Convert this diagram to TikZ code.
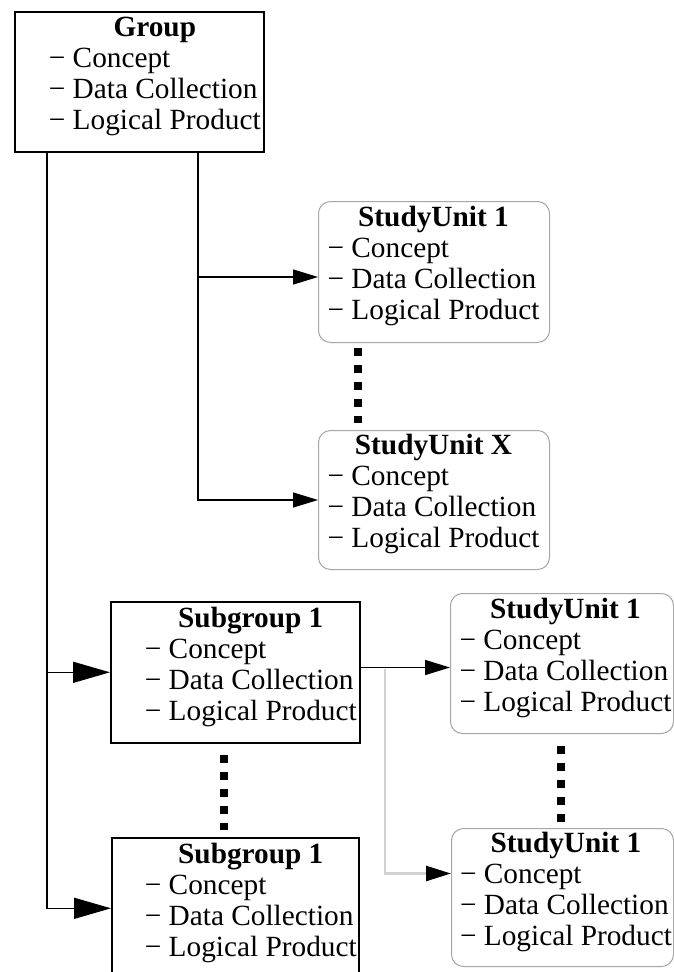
\documentclass[tikz,border=0pt]{standalone}
\usepackage{fontspec}
\setmainfont{Liberation Serif}
\usetikzlibrary{arrows.meta,calc}
\newcommand{\boxcontent}[3]{%
  \begin{tabular}{@{\hspace{#2}}l@{\hspace{#3}}}
  \multicolumn{1}{@{\hspace{#2}}c@{\hspace{#3}}}{\textbf{#1}}\\
  − Concept\\
  − Data Collection\\
  − Logical Product\rule[-19pt]{0pt}{1pt}
  \end{tabular}}
\tikzset{
  rect/.style={draw=black, line width=1.6pt, inner sep=0pt, anchor=north west,
    font=\fontsize{29.3}{31}\selectfont},
  rbox/.style={rect, draw=gray!70, line width=1pt, rounded corners=12pt},
  conn/.style={line width=1.5pt},
  bigarrow/.style={-{Triangle[length=37pt,width=21pt]}},
  smallarrow/.style={-{Triangle[length=25pt,width=15pt]}},
  graylink/.style={draw=gray!35, line width=2.5pt, -{Triangle[length=25pt,width=15pt,color=black]}},
  dotcol/.style={line width=8pt, dash pattern=on 8pt off 9pt}
}
\begin{document}
\begin{tikzpicture}[x=1pt,y=-1pt]
\clip (0,0) rectangle (674,972);
\fill[white] (0,0) rectangle (674,972);
% boxes
\node[rect, minimum width=249pt, minimum height=140pt] (group) at (14,11) {\boxcontent{Group}{33pt}{2pt}};
\node[rbox, minimum width=231pt, minimum height=141pt] (su1) at (318,201) {\boxcontent{StudyUnit 1}{8pt}{9pt}};
\node[rbox, minimum width=231pt, minimum height=139pt] (sux) at (318,430) {\boxcontent{StudyUnit X}{8pt}{9pt}};
\node[rect, minimum width=249pt, minimum height=141pt] (sg1) at (110,601) {\boxcontent{Subgroup 1}{33pt}{2pt}};
\node[rect, minimum width=247pt, minimum height=141pt] (sgb) at (111,837) {\boxcontent{Subgroup 1}{32pt}{1pt}};
\node[rbox, minimum width=223pt, minimum height=140pt] (sur1) at (450,593) {\boxcontent{StudyUnit 1}{7pt}{0pt}};
\node[rbox, minimum width=222pt, minimum height=138pt] (sub) at (451,828) {\boxcontent{StudyUnit 1}{7pt}{0pt}};
% branch points
\coordinate (g0) at (47,151);
\coordinate (g1) at (198,151);
\coordinate (a1) at ($(su1.west)+(0,5)$);
\coordinate (b1) at ($(sur1.west)+(0,4)$);
\coordinate (gs) at (385,669);
\coordinate (b2) at ($(sub.west)+(0,-24)$);
% connectors
\draw[graylink] (gs) |- (b2);
\draw[conn,bigarrow] (g0) |- (sgb.west);
\draw[conn,bigarrow] (g0 |- sg1.west) -- (sg1.west);
\draw[conn,smallarrow] (g1) |- (sux.west);
\draw[conn,smallarrow] (g1 |- a1) -- (a1);
\draw[conn,smallarrow] (b1 -| sg1.east) -- (b1);
% dotted continuations
\draw[dotcol] ($(su1.south west)+(40,5)$) -- ($(sux.north west)+(40,-7)$);
\draw[dotcol] ($(sg1.south west)+(114,11)$) -- ($(sgb.north west)+(113,-7)$);
\draw[dotcol] ($(sur1.south west)+(111,12)$) -- ($(sub.north west)+(110,-6)$);
\end{tikzpicture}
\end{document}
